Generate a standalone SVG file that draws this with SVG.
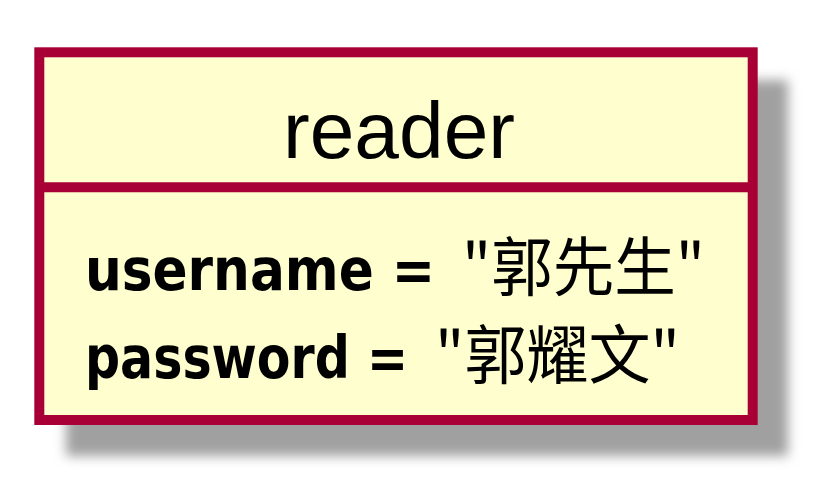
<svg xmlns="http://www.w3.org/2000/svg" width="818" height="486" viewBox="0 0 818 486">
<defs>
<filter id="shadow" x="-20%" y="-20%" width="140%" height="140%">
<feGaussianBlur stdDeviation="6"/>
</filter>
<style>
.box{fill:#FEFECE;stroke:#A80036;stroke-width:10}
.title{font-family:"Liberation Sans",Arial,sans-serif;font-size:80px;fill:#000}
.attr{font-family:"DejaVu Sans","Noto Sans CJK SC",sans-serif;font-weight:bold;font-size:58px;fill:#000}
.cjk{font-family:"Noto Sans CJK SC",sans-serif;font-weight:normal;font-size:64px}
</style>
</defs>
<rect x="66" y="80" width="722" height="376" fill="#A0A0A0" filter="url(#shadow)"/>
<g id="reader">
<rect class="box" x="39.3" y="52.3" width="713.4" height="367.7"/>
<line x1="39.3" y1="187.3" x2="752.7" y2="187.3" stroke="#A80036" stroke-width="10"/>
<text class="title" x="283" y="157.5" textLength="232" lengthAdjust="spacingAndGlyphs">reader</text>
<text class="attr" y="290"><tspan x="85" textLength="350" lengthAdjust="spacingAndGlyphs">username =</tspan><tspan class="cjk" x="462" textLength="243" lengthAdjust="spacingAndGlyphs">"郭先生"</tspan></text>
<text class="attr" y="378"><tspan x="85" textLength="323" lengthAdjust="spacingAndGlyphs">password =</tspan><tspan class="cjk" x="435" textLength="245" lengthAdjust="spacingAndGlyphs">"郭耀文"</tspan></text>
</g>
<g id="connectors"/>
</svg>
